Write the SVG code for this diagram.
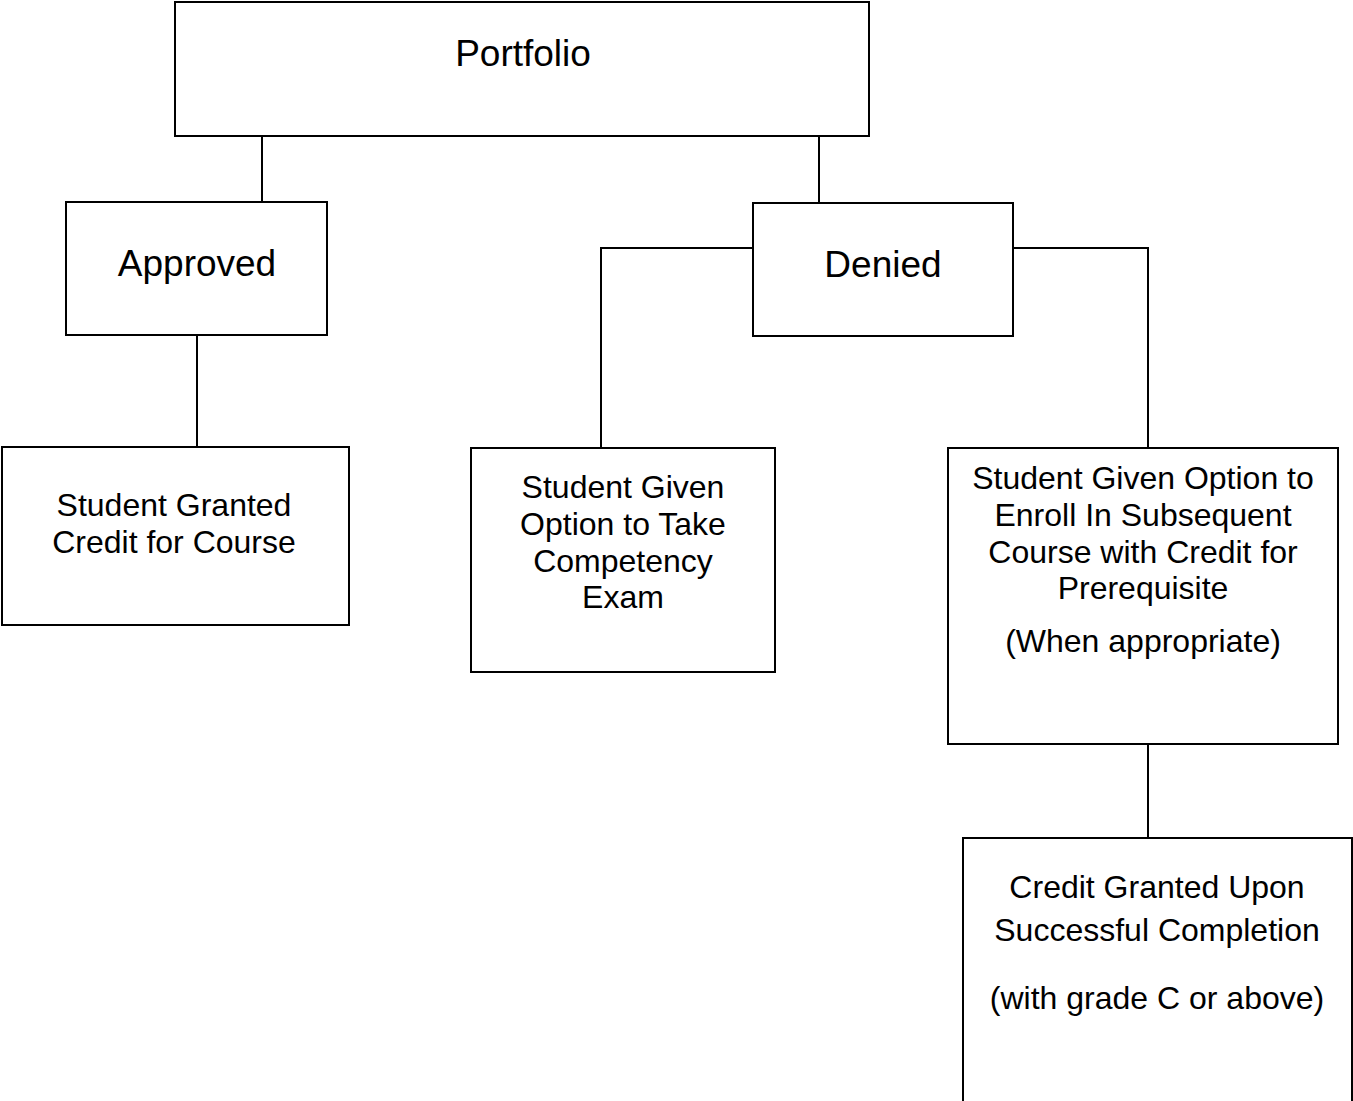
<svg xmlns="http://www.w3.org/2000/svg" width="1353" height="1101" viewBox="0 0 1353 1101">
<style>
.box{fill:#fff;stroke:#000;stroke-width:2}
.c{fill:none;stroke:#000;stroke-width:2}
text{font-family:"Liberation Sans",Arial,sans-serif;fill:#000;text-anchor:middle}
.big{font-size:37px}
.sm{font-size:32px}
</style>
<rect width="1353" height="1101" fill="#fff"/>
<g id="connectors">
<path class="c" d="M262,136V202"/>
<path class="c" d="M819,136V203"/>
<path class="c" d="M753,248H601V448"/>
<path class="c" d="M1013,248H1148V448"/>
<path class="c" d="M197,335V447"/>
<path class="c" d="M1148,744V838"/>
</g>
<g id="portfolio"><rect class="box" x="175" y="2" width="694" height="134"/><text class="big" x="523" y="66">Portfolio</text></g>
<g id="approved"><rect class="box" x="66" y="202" width="261" height="133"/><text class="big" x="197" y="276">Approved</text></g>
<g id="denied"><rect class="box" x="753" y="203" width="260" height="133"/><text class="big" x="883" y="277">Denied</text></g>
<g id="granted"><rect class="box" x="2" y="447" width="347" height="178"/><text class="sm" x="174" y="516">Student Granted</text><text class="sm" x="174" y="553">Credit for Course</text></g>
<g id="exam"><rect class="box" x="471" y="448" width="304" height="224"/><text class="sm" x="623" y="498">Student Given</text><text class="sm" x="623" y="535">Option to Take</text><text class="sm" x="623" y="572">Competency</text><text class="sm" x="623" y="608">Exam</text></g>
<g id="enroll"><rect class="box" x="948" y="448" width="390" height="296"/><text class="sm" x="1143" y="489">Student Given Option to</text><text class="sm" x="1143" y="526">Enroll In Subsequent</text><text class="sm" x="1143" y="563">Course with Credit for</text><text class="sm" x="1143" y="599">Prerequisite</text><text class="sm" x="1143" y="652">(When appropriate)</text></g>
<g id="credit"><rect class="box" x="963" y="838" width="389" height="280"/><text class="sm" x="1157" y="898">Credit Granted Upon</text><text class="sm" x="1157" y="941">Successful Completion</text><text class="sm" x="1157" y="1009">(with grade C or above)</text></g>
</svg>
